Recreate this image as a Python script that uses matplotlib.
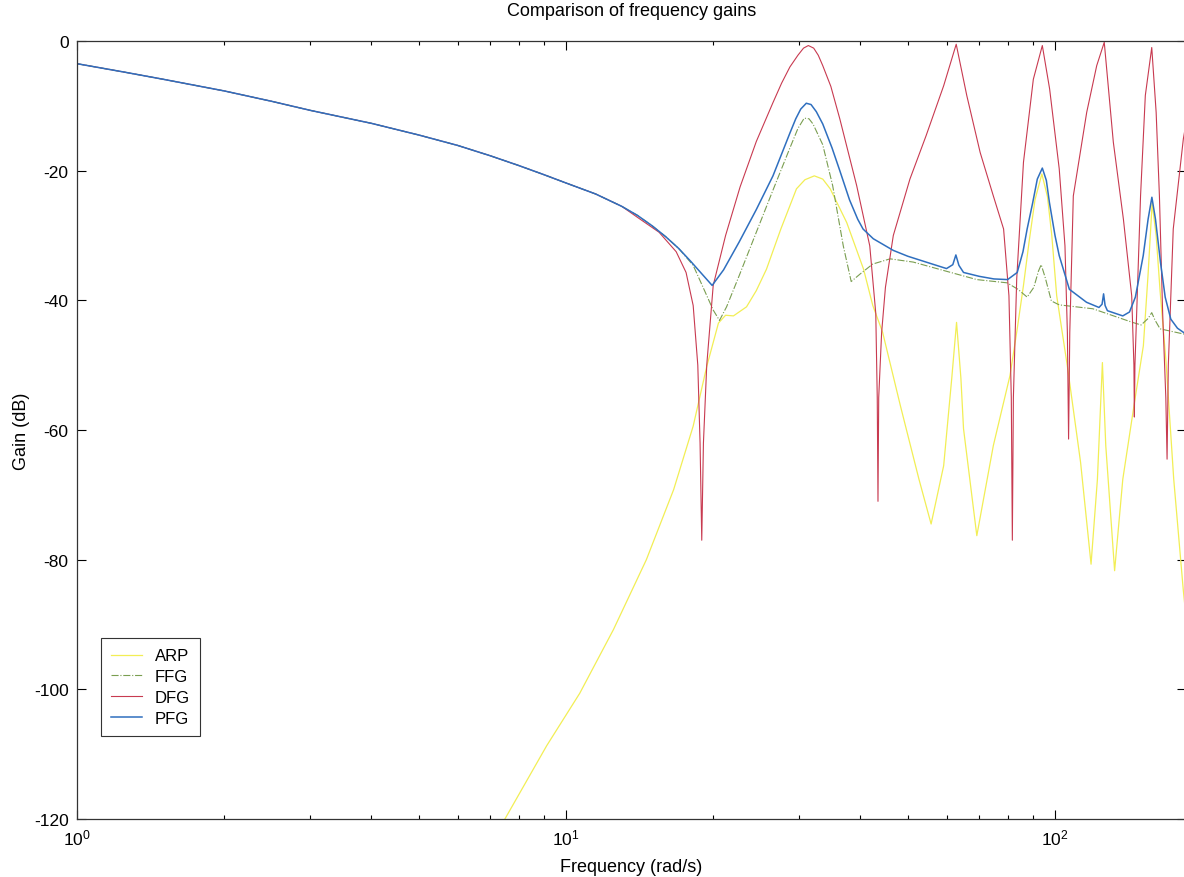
import matplotlib
matplotlib.use("Agg")
import matplotlib.pyplot as plt
from matplotlib.ticker import LogLocator, NullFormatter

plt.rcParams['font.family'] = ['Liberation Sans', 'DejaVu Sans']
plt.rcParams['mathtext.fontset'] = 'custom'
plt.rcParams['mathtext.rm'] = 'Liberation Sans'
plt.rcParams['mathtext.default'] = 'regular'
plt.rcParams['axes.unicode_minus'] = False

# --- data (frequency in rad/s, gain in dB) ---
# low-frequency part shared by FFG, DFG and PFG
base_f = [1.0, 1.25, 1.5, 2.0, 2.5, 3.0, 4.0, 5.0, 6.0, 7.0, 8.0, 9.0, 10.0, 11.5, 13.0]
base_db = [-3.5, -4.8, -5.9, -7.7, -9.3, -10.7, -12.7, -14.5, -16.1, -17.7,
           -19.2, -20.6, -21.9, -23.6, -25.5]

arp_f = [7.5, 9.13, 10.67, 12.5, 14.6, 16.6, 18.2, 19.4, 20.5, 21.2, 22.0, 23.4,
         24.5, 25.7, 27.5, 29.6, 30.8, 32.2, 33.5, 34.7, 37.5, 40.6, 42.4, 44.4,
         48.3, 52.7, 55.8, 59.2, 61.5, 62.9, 64.2, 65.0, 69.2, 74.8, 80.9, 83.7,
         86.2, 88.5, 91.0, 94.0, 96.5, 98.5, 100.8, 106.2, 112.8, 118.5, 122.1,
         125.0, 127.0, 132.4, 137.6, 145.0, 151.6, 155.0, 158.0, 161.0, 164.0,
         168.7, 174.9, 183.0, 186.0]
arp_db = [-120.0, -108.7, -100.6, -90.8, -80.0, -69.2, -59.4, -50.2, -43.5, -42.3,
          -42.4, -41.0, -38.5, -35.2, -29.0, -22.8, -21.4, -20.8, -21.3, -22.8,
          -28.0, -35.2, -40.8, -44.9, -56.3, -67.6, -74.5, -65.5, -52.0, -43.4,
          -52.0, -59.8, -76.3, -62.4, -51.6, -44.4, -37.7, -31.0, -24.5, -20.5,
          -24.0, -30.0, -39.3, -50.6, -65.0, -80.7, -67.6, -49.6, -62.4, -81.7,
          -67.6, -56.3, -47.0, -36.0, -25.0, -30.0, -38.5, -49.6, -67.6, -84.8,
          -90.0]

ffg_f = [14.0, 15.0, 16.0, 17.0, 18.2, 19.2, 20.0, 20.6, 21.3, 22.6, 24.5, 26.5,
         28.7, 29.8, 30.7, 31.4, 32.0, 33.5, 35.1, 36.9, 38.3, 40.0, 42.4, 46.0,
         51.3, 59.2, 69.2, 79.8, 84.0, 87.7, 90.5, 92.5, 93.7, 95.5, 98.3, 102.0,
         119.5, 144.0, 150.0, 155.0, 157.7, 160.0, 164.0, 186.0]
ffg_db = [-26.9, -28.5, -30.2, -32.0, -34.6, -38.5, -41.5, -43.1, -41.0, -36.2,
          -29.5, -23.0, -16.5, -13.5, -11.9, -12.0, -12.8, -16.0, -22.3, -31.6,
          -37.1, -35.9, -34.4, -33.6, -34.1, -35.4, -36.8, -37.3, -38.3, -39.5,
          -38.0, -35.5, -34.5, -36.5, -40.1, -40.7, -41.3, -43.4, -43.8, -42.8,
          -41.9, -43.0, -44.4, -45.3]

dfg_f = [14.0, 15.5, 16.8, 17.6, 18.2, 18.6, 18.8, 18.95, 19.1, 19.4, 20.0, 21.2,
         22.7, 24.5, 26.5, 27.6, 28.7, 29.8, 30.6, 31.3, 32.1, 32.8, 33.5, 34.8,
         36.3, 39.3, 41.8, 43.0, 43.3, 43.45, 43.6, 44.2, 45.0, 46.7, 50.5, 54.5,
         59.2, 62.8, 66.0, 70.3, 74.8, 78.5, 80.5, 81.4, 81.8, 82.2, 83.5, 86.2,
         90.3, 94.2, 97.5, 102.0, 104.8, 106.0, 106.6, 107.2, 109.0, 116.1, 121.7,
         126.1, 131.6, 138.0, 143.5, 145.0, 145.3, 145.7, 149.6, 153.0, 157.7,
         161.0, 163.5, 166.0, 168.5, 169.5, 170.5, 174.5, 183.0, 186.0]
dfg_db = [-27.2, -29.5, -32.5, -35.7, -40.8, -50.0, -62.0, -77.0, -62.0, -50.0,
          -37.7, -30.0, -22.5, -15.5, -9.5, -6.5, -4.0, -2.2, -1.1, -0.7, -1.1,
          -2.2, -3.8, -7.0, -12.0, -22.3, -31.6, -42.0, -55.0, -71.0, -55.0, -45.0,
          -38.0, -30.0, -21.3, -14.6, -6.9, -0.5, -8.4, -17.2, -23.9, -29.0, -39.3,
          -55.0, -77.0, -55.0, -36.7, -18.7, -5.9, -0.7, -7.4, -19.7, -31.6, -45.0,
          -61.4, -45.0, -23.9, -11.0, -3.8, -0.2, -15.6, -27.5, -39.3, -50.0, -58.0,
          -50.0, -23.9, -8.4, -1.0, -11.0, -23.9, -41.9, -55.0, -64.5, -50.0,
          -29.0, -15.1, -12.0]

pfg_f = [14.0, 15.0, 16.0, 17.0, 18.0, 19.0, 19.9, 21.0, 22.6, 24.5, 26.5, 28.7,
         29.5, 30.2, 31.0, 31.7, 32.5, 33.5, 35.0, 36.3, 38.0, 39.5, 40.5, 42.5,
         46.7, 50.0, 54.5, 60.0, 61.8, 62.7, 63.6, 65.0, 70.0, 75.0, 80.0, 83.7,
         86.0, 87.7, 90.0, 92.0, 94.2, 96.0, 97.4, 100.0, 102.0, 107.0, 116.0,
         123.0, 124.8, 125.7, 126.6, 128.0, 137.6, 142.0, 146.0, 151.5, 155.0,
         157.8, 160.5, 164.3, 168.0, 172.5, 178.0, 186.0]
pfg_db = [-26.9, -28.5, -30.2, -32.0, -34.0, -36.0, -37.7, -35.3, -31.0, -26.0,
          -20.8, -14.2, -12.0, -10.5, -9.6, -9.8, -10.9, -12.8, -16.5, -20.0,
          -24.5, -27.5, -29.0, -30.5, -32.3, -33.2, -34.1, -35.1, -34.5, -33.0,
          -34.6, -35.7, -36.3, -36.7, -36.8, -35.7, -32.5, -29.0, -25.0, -21.3,
          -19.6, -21.5, -24.9, -30.0, -33.1, -38.3, -40.3, -41.1, -40.6, -39.0,
          -40.8, -41.6, -42.4, -41.8, -39.5, -33.1, -27.5, -24.1, -27.5, -34.1,
          -39.5, -42.9, -44.3, -45.3]

fig = plt.figure(figsize=(11.84, 8.78), dpi=100)
ax = fig.add_axes([77 / 1184, 1 - 820 / 878, 1109 / 1184, 778 / 878])

ax.plot(arp_f, arp_db, color='#f2ee55', lw=0.9, label='ARP')
ax.plot(base_f + ffg_f, base_db + ffg_db, color='#7a9e50', lw=0.8, ls='-.', label='FFG')
ax.plot(base_f + dfg_f, base_db + dfg_db, color='#c83a50', lw=0.8, label='DFG')
ax.plot(base_f + pfg_f, base_db + pfg_db, color='#2f6fbf', lw=1.1, label='PFG')

ax.set_xscale('log')
ax.set_xlim(1, 185.3)
ax.set_ylim(-120, 0)
ax.set_yticks([0, -20, -40, -60, -80, -100, -120])
ax.xaxis.set_major_locator(LogLocator(base=10))
ax.xaxis.set_minor_locator(LogLocator(base=10, subs=range(2, 10)))
ax.xaxis.set_minor_formatter(NullFormatter())
ax.tick_params(which='both', direction='in', top=True, right=True, labelsize=12.5)
ax.tick_params(which='major', length=6.5, width=0.8)
ax.tick_params(which='minor', length=3, width=0.8)
ax.tick_params(axis='x', which='major', pad=6)
ax.tick_params(axis='y', which='major', pad=6)
for s in ax.spines.values():
    s.set_linewidth(0.9)
    s.set_color('#333333')

ax.set_title('Comparison of frequency gains', fontsize=13, pad=19)
ax.set_xlabel('Frequency (rad/s)', fontsize=13, labelpad=8)
ax.set_ylabel('Gain (dB)', fontsize=13, labelpad=3)

leg = ax.legend(loc='lower left', bbox_to_anchor=(0.0214, 0.1067), borderaxespad=0,
                fontsize=12, handlelength=1.9, handletextpad=0.75, labelspacing=0.35,
                borderpad=0.6, fancybox=False, framealpha=1, edgecolor='#333333')
leg.get_frame().set_linewidth(0.8)

fig.savefig('out.png', dpi=100)
